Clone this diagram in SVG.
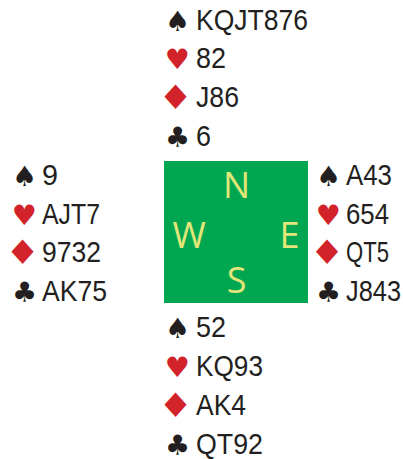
<svg xmlns="http://www.w3.org/2000/svg" width="403" height="459" viewBox="0 0 403 459">
<style>
.c{font-family:"Liberation Sans",Arial,sans-serif;font-size:30px;fill:#231f20}
.s{font-family:"DejaVu Sans",sans-serif;font-size:28px}
.dm{font-family:"DejaVu Sans",sans-serif;font-size:28px;fill:#d2232a;text-anchor:middle}
.b{fill:#231f20}
.r{fill:#d2232a}
.d{font-family:"Open Sans","Lato",sans-serif;font-size:36px;fill:#e2e67a;text-anchor:middle}
</style>
<rect width="403" height="459" fill="#ffffff"/>
<g id="north">
<text class="s b" x="165" y="31">♠</text><text class="c" x="196" y="30" textLength="112" lengthAdjust="spacingAndGlyphs">KQJT876</text>
<text class="s r" x="165" y="69">♥</text><text class="c" x="196" y="68" textLength="30" lengthAdjust="spacingAndGlyphs">82</text>
<text class="dm" transform="translate(175.5,109) scale(1.4,1.2)">♦</text><text class="c" x="196" y="107" textLength="43" lengthAdjust="spacingAndGlyphs">J86</text>
<text class="s b" x="165" y="147">♣</text><text class="c" x="196" y="146" textLength="15" lengthAdjust="spacingAndGlyphs">6</text>
</g>
<g id="west">
<text class="s b" x="12" y="186">♠</text><text class="c" x="42" y="185" textLength="16" lengthAdjust="spacingAndGlyphs">9</text>
<text class="s r" x="12" y="225">♥</text><text class="c" x="42" y="224" textLength="58" lengthAdjust="spacingAndGlyphs">AJT7</text>
<text class="dm" transform="translate(22.5,264) scale(1.4,1.2)">♦</text><text class="c" x="42" y="262" textLength="59" lengthAdjust="spacingAndGlyphs">9732</text>
<text class="s b" x="12" y="302">♣</text><text class="c" x="42" y="301" textLength="65" lengthAdjust="spacingAndGlyphs">AK75</text>
</g>
<g id="east">
<text class="s b" x="316" y="186">♠</text><text class="c" x="346" y="185" textLength="46" lengthAdjust="spacingAndGlyphs">A43</text>
<text class="s r" x="316" y="225">♥</text><text class="c" x="346" y="224" textLength="43" lengthAdjust="spacingAndGlyphs">654</text>
<text class="dm" transform="translate(327,264) scale(1.4,1.2)">♦</text><text class="c" x="346" y="262" textLength="43" lengthAdjust="spacingAndGlyphs">QT5</text>
<text class="s b" x="316" y="302">♣</text><text class="c" x="346" y="301" textLength="55" lengthAdjust="spacingAndGlyphs">J843</text>
</g>
<g id="south">
<text class="s b" x="165" y="338">♠</text><text class="c" x="196" y="337" textLength="30" lengthAdjust="spacingAndGlyphs">52</text>
<text class="s r" x="165" y="377">♥</text><text class="c" x="196" y="376" textLength="67" lengthAdjust="spacingAndGlyphs">KQ93</text>
<text class="dm" transform="translate(175.5,417) scale(1.4,1.2)">♦</text><text class="c" x="196" y="415" textLength="50" lengthAdjust="spacingAndGlyphs">AK4</text>
<text class="s b" x="165" y="455">♣</text><text class="c" x="196" y="454" textLength="67" lengthAdjust="spacingAndGlyphs">QT92</text>
</g>
<g id="table">
<rect x="164" y="161" width="144" height="142" fill="#00a650"/>
<text class="d" x="236.5" y="198">N</text>
<text class="d" x="189" y="248">W</text>
<text class="d" x="289.5" y="248">E</text>
<text class="d" x="236.5" y="293">S</text>
</g>
<g id="connectors"/>
</svg>
